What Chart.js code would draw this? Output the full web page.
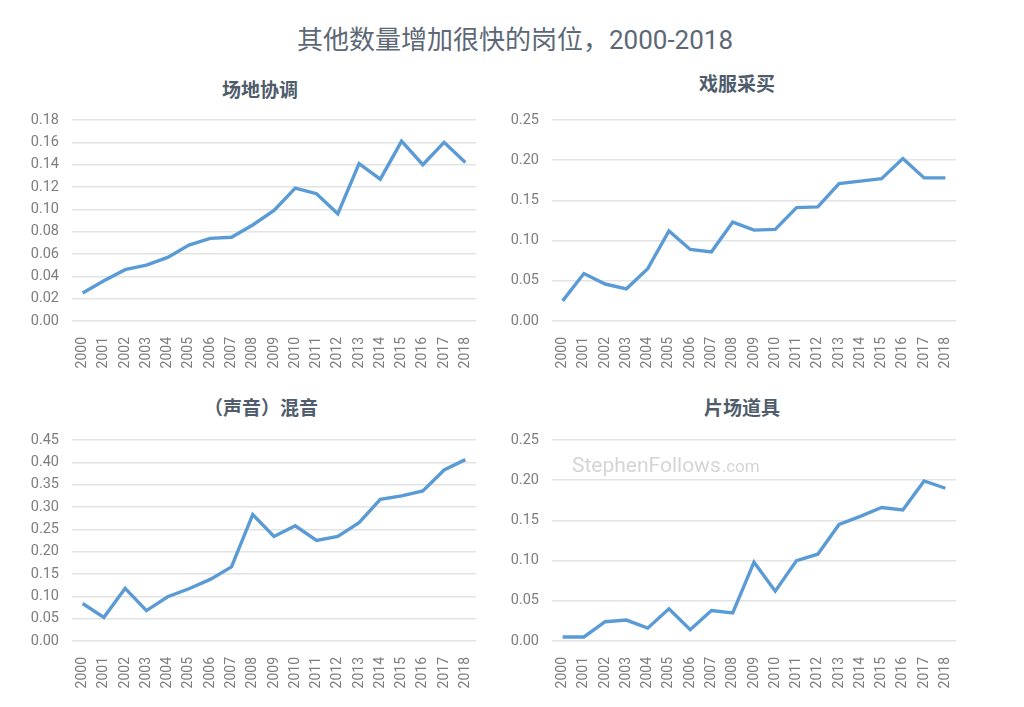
<!DOCTYPE html>
<html>
<head>
<meta charset="utf-8">
<script src="https://cdn.jsdelivr.net/npm/chart.js@4.4.0/dist/chart.umd.min.js"></script>
<style>
  html, body { margin: 0; padding: 0; background: #fff; }
  #page { position: relative; width: 1024px; height: 707px; overflow: hidden; }
  .title { position: absolute; transform: translate(-50%, -50%); white-space: nowrap; }
  #mainTitle { font: 26px "Roboto", "Noto Sans CJK SC", sans-serif; color: #5d6876; }
  .sub { font: bold 19px "Noto Sans CJK SC", sans-serif; color: #4f5c6b; }
  canvas { position: absolute; }
</style>
</head>
<body>
<div id="page">
  <div id="mainTitle" class="title" style="left:515px; top:37px;">其他数量增加很快的岗位，2000-2018</div>
  <div class="title sub" style="left:260px; top:88px;">场地协调</div>
  <div class="title sub" style="left:737px; top:82px;">戏服采买</div>
  <div class="title sub" style="left:261px; top:406px;">（声音）混音</div>
  <div class="title sub" style="left:742px; top:406px;">片场道具</div>
  <canvas id="c1" width="460" height="270" style="left:20px; top:110px;"></canvas>
  <canvas id="c2" width="460" height="270" style="left:500px; top:110px;"></canvas>
  <canvas id="c3" width="460" height="270" style="left:20px; top:430px;"></canvas>
  <canvas id="c4" width="460" height="270" style="left:500px; top:430px;"></canvas>
</div>
<script>
// ---- data ----
const years = ["2000", "2001", "2002", "2003", "2004", "2005", "2006", "2007", "2008", "2009",
               "2010", "2011", "2012", "2013", "2014", "2015", "2016", "2017", "2018"];

// 场地协调
const siteCoordination = [0.025, 0.036, 0.046, 0.050, 0.057, 0.068, 0.074, 0.075, 0.086, 0.099,
                          0.119, 0.114, 0.096, 0.141, 0.127, 0.161, 0.140, 0.160, 0.142];
// 戏服采买
const costumeBuying = [0.025, 0.059, 0.046, 0.040, 0.065, 0.112, 0.089, 0.086, 0.123, 0.113,
                       0.114, 0.141, 0.142, 0.171, 0.174, 0.177, 0.202, 0.178, 0.178];
// （声音）混音
const soundMixing = [0.084, 0.053, 0.118, 0.068, 0.099, 0.117, 0.138, 0.166, 0.283, 0.234,
                     0.258, 0.225, 0.234, 0.265, 0.317, 0.325, 0.336, 0.383, 0.406];
// 片场道具
const setProps = [0.005, 0.005, 0.024, 0.026, 0.016, 0.040, 0.014, 0.038, 0.035, 0.098,
                  0.062, 0.100, 0.108, 0.145, 0.155, 0.166, 0.163, 0.199, 0.190];

// y axis ranges: [max, step]
const siteAxis = [0.18, 0.02];
const costumeAxis = [0.25, 0.05];
const soundAxis = [0.45, 0.05];
const propsAxis = [0.25, 0.05];

const LINE_COLOR = "#5b9bd5";
const GRID_COLOR = "#e3e3e3";
const TICK_COLOR = "#7d7d7d";

// watermark on the last panel
const watermarkPlugin = {
    id: "watermark",
    afterDraw(chart) {
        const ctx = chart.ctx;
        ctx.save();
        ctx.fillStyle = "#d5d5d5";
        ctx.textBaseline = "alphabetic";
        ctx.font = "21px Roboto";
        ctx.fillText("StephenFollows", 72, 42);
        const w = ctx.measureText("StephenFollows").width;
        ctx.font = "17px Roboto";
        ctx.fillText(".com", 72 + w + 1, 42);
        ctx.restore();
    }
};

function makePanel(canvasId, values, axis, plugins) {
    return new Chart(document.getElementById(canvasId), {
        type: "line",
        data: {
            labels: years,
            datasets: [{
                data: values,
                borderColor: LINE_COLOR,
                borderWidth: 3.4,
                pointRadius: 0,
                tension: 0,
                fill: false
            }]
        },
        options: {
            responsive: false,
            animation: false,
            layout: { padding: { top: 10, right: 4, left: 0, bottom: 0 } },
            plugins: { legend: { display: false }, tooltip: { enabled: false } },
            scales: {
                x: {
                    offset: true,
                    grid: { display: false },
                    border: { display: false },
                    ticks: {
                        color: TICK_COLOR,
                        font: { family: "Roboto", size: 14 },
                        minRotation: 90,
                        maxRotation: 90,
                        autoSkip: false,
                        padding: 8
                    },
                    // fixed axis size so the plot area lands where the reference has it
                    afterFit(scale) {
                        scale.height = 59;
                        scale.paddingLeft = 0;
                        scale.paddingRight = 0;
                    }
                },
                y: {
                    min: 0,
                    max: axis[0],
                    grid: { color: GRID_COLOR, lineWidth: 1.5, drawTicks: false },
                    border: { display: false },
                    ticks: {
                        stepSize: axis[1],
                        color: TICK_COLOR,
                        font: { family: "Roboto", size: 14.5 },
                        padding: 13,
                        callback: v => v.toFixed(2)
                    },
                    afterFit(scale) {
                        scale.width = 52;
                        scale.paddingTop = 0;
                        scale.paddingBottom = 0;
                    }
                }
            }
        },
        plugins: plugins || []
    });
}

makePanel("c1", siteCoordination, siteAxis);
makePanel("c2", costumeBuying, costumeAxis);
makePanel("c3", soundMixing, soundAxis);
makePanel("c4", setProps, propsAxis, [watermarkPlugin]);
</script>
</body>
</html>
